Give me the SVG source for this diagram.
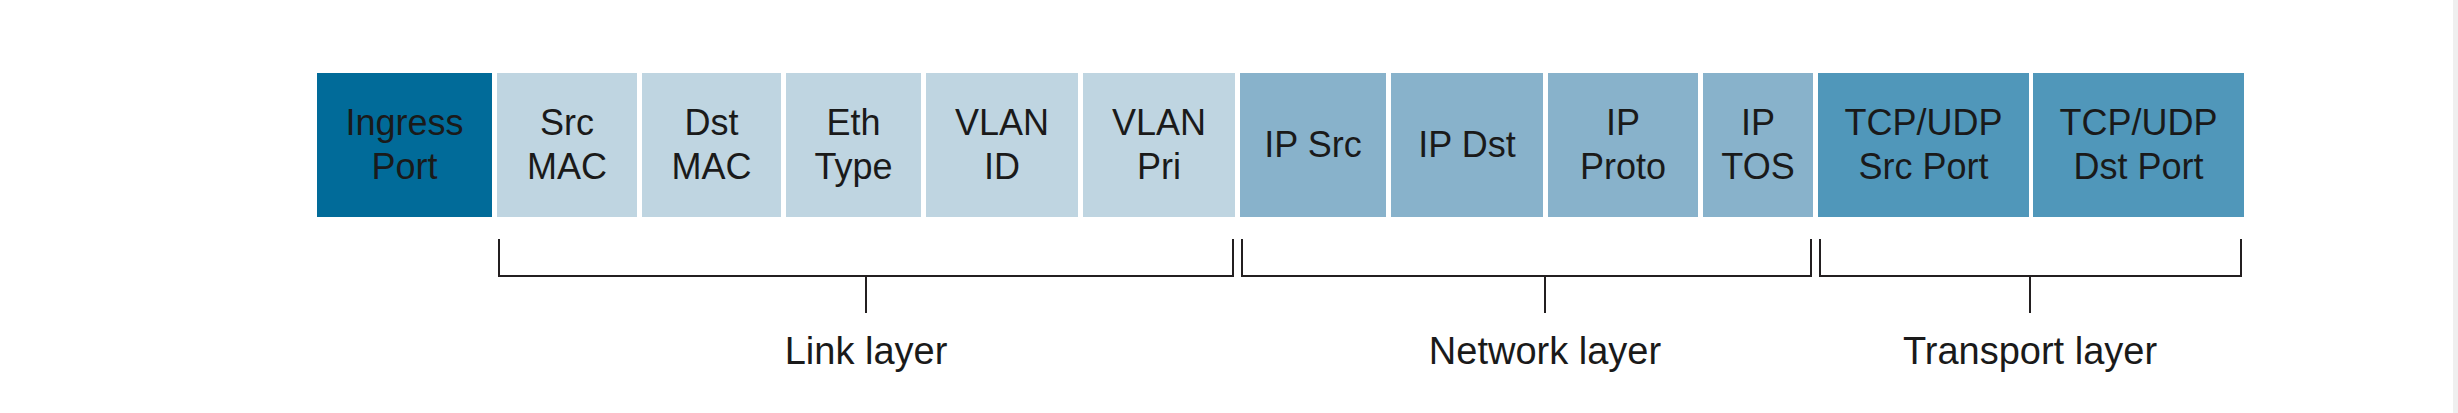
<svg xmlns="http://www.w3.org/2000/svg" width="2458" height="413" viewBox="0 0 2458 413">
<style>
.t{font-family:"Liberation Sans",Arial,sans-serif;font-size:36px;fill:#1a1a1a;text-anchor:middle}
.lbl{font-family:"Liberation Sans",Arial,sans-serif;font-size:38px;fill:#1a1a1a;text-anchor:middle}
.ing{fill:#016b99}
.link{fill:#bfd5e1}
.net{fill:#88b2cb}
.tr{fill:#5097ba}
.br{fill:none;stroke:#231f20;stroke-width:2}
</style>
<rect x="0" y="0" width="2458" height="413" fill="#ffffff"/>
<rect x="2453" y="0" width="5" height="413" fill="#efefef"/>
<g id="ingress-port"><rect class="ing" x="317" y="73" width="175" height="144"/><text class="t" x="404.5" y="135">Ingress</text><text class="t" x="404.5" y="179">Port</text></g>
<g id="src-mac"><rect class="link" x="497" y="73" width="140" height="144"/><text class="t" x="567" y="135">Src</text><text class="t" x="567" y="179">MAC</text></g>
<g id="dst-mac"><rect class="link" x="642" y="73" width="139" height="144"/><text class="t" x="711.5" y="135">Dst</text><text class="t" x="711.5" y="179">MAC</text></g>
<g id="eth-type"><rect class="link" x="786" y="73" width="135" height="144"/><text class="t" x="853.5" y="135">Eth</text><text class="t" x="853.5" y="179">Type</text></g>
<g id="vlan-id"><rect class="link" x="926" y="73" width="152" height="144"/><text class="t" x="1002" y="135">VLAN</text><text class="t" x="1002" y="179">ID</text></g>
<g id="vlan-pri"><rect class="link" x="1083" y="73" width="152" height="144"/><text class="t" x="1159" y="135">VLAN</text><text class="t" x="1159" y="179">Pri</text></g>
<g id="ip-src"><rect class="net" x="1240" y="73" width="146" height="144"/><text class="t" x="1313" y="157">IP Src</text></g>
<g id="ip-dst"><rect class="net" x="1391" y="73" width="152" height="144"/><text class="t" x="1467" y="157">IP Dst</text></g>
<g id="ip-proto"><rect class="net" x="1548" y="73" width="150" height="144"/><text class="t" x="1623" y="135">IP</text><text class="t" x="1623" y="179">Proto</text></g>
<g id="ip-tos"><rect class="net" x="1703" y="73" width="110" height="144"/><text class="t" x="1758" y="135">IP</text><text class="t" x="1758" y="179">TOS</text></g>
<g id="tcp-udp-src-port"><rect class="tr" x="1818" y="73" width="211" height="144"/><text class="t" x="1923.5" y="135">TCP/UDP</text><text class="t" x="1923.5" y="179">Src Port</text></g>
<g id="tcp-udp-dst-port"><rect class="tr" x="2033" y="73" width="211" height="144"/><text class="t" x="2138.5" y="135">TCP/UDP</text><text class="t" x="2138.5" y="179">Dst Port</text></g>
<g id="connectors">
<path class="br" d="M499,239 V276 H1233 V239 M866,276 V313"/>
<path class="br" d="M1242,239 V276 H1811 V239 M1545,276 V313"/>
<path class="br" d="M1820,239 V276 H2241 V239 M2030,276 V313"/>
</g>
<g id="link-layer"><text class="lbl" x="866" y="364">Link layer</text></g>
<g id="network-layer"><text class="lbl" x="1545" y="364">Network layer</text></g>
<g id="transport-layer"><text class="lbl" x="2030" y="364">Transport layer</text></g>
</svg>
